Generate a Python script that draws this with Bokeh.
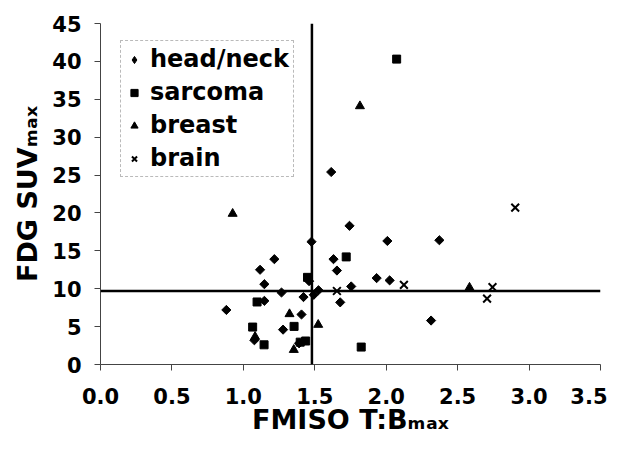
import math
from bokeh.plotting import figure
from bokeh.models import (Span, FixedTicker, NumeralTickFormatter, Range1d,
                          Legend, LegendItem)
from bokeh.embed import file_html
from bokeh.resources import INLINE

# ---- data ----
head_neck_x = [1.477, 1.217, 1.631, 1.117, 1.655, 1.147, 1.46, 1.267, 1.526, 1.493,
               1.421, 1.678, 1.147, 0.881, 1.407, 1.278, 1.077, 1.39, 1.743, 2.008,
               2.372, 1.933, 2.024, 1.755, 2.314, 1.615]
head_neck_y = [16.2, 13.9, 13.9, 12.5, 12.4, 10.6, 11.0, 9.5, 9.8, 9.2,
               8.9, 8.2, 8.4, 7.2, 6.6, 4.6, 3.2, 2.8, 18.3, 16.3,
               16.4, 11.4, 11.1, 10.3, 5.8, 25.4]
sarcoma_x = [2.073, 1.72, 1.449, 1.096, 1.065, 1.355, 1.145, 1.398, 1.436, 1.825]
sarcoma_y = [40.3, 14.2, 11.5, 8.25, 4.94, 5.03, 2.6, 2.95, 3.1, 2.3]
breast_x = [0.925, 1.816, 1.323, 1.524, 1.082, 1.353, 2.583]
breast_y = [19.9, 34.1, 6.66, 5.25, 3.66, 1.94, 10.15]
brain_x = [1.655, 2.124, 2.744, 2.706, 2.903]
brain_y = [9.7, 10.5, 10.2, 8.7, 20.7]

series_labels = ["head/neck", "sarcoma", "breast", "brain"]

x_ticks = [0.0, 0.5, 1.0, 1.5, 2.0, 2.5, 3.0, 3.5]
y_ticks = [0, 5, 10, 15, 20, 25, 30, 35, 40, 45]
fmiso_cut = 1.48
fdg_cut = 9.7

x_title = "FMISO T:B\u2098\u2090\u2093"
y_title = "FDG SUV\u2098\u2090\u2093"

FONT = "DejaVu Sans"

p = figure(width=607, height=442, output_backend="svg", toolbar_location=None,
           x_range=Range1d(0, 3.5), y_range=Range1d(0, 45),
           min_border_left=100, min_border_right=7, min_border_top=23,
           min_border_bottom=78)
p.outline_line_color = None
p.xgrid.visible = False
p.ygrid.visible = False
p.background_fill_color = "white"
p.border_fill_color = "white"

for ax in (p.xaxis[0], p.yaxis[0]):
    ax.axis_line_color = "#444444"
    ax.axis_line_width = 1
    ax.major_tick_line_color = "#444444"
    ax.major_tick_out = 6
    ax.major_tick_in = 0
    ax.minor_tick_line_color = None
    ax.major_label_text_font = FONT
    ax.major_label_text_font_style = "bold"
    ax.major_label_text_font_size = "21px"
    ax.major_label_text_color = "black"
    ax.axis_label_text_font = FONT
    ax.axis_label_text_font_style = "bold"
    ax.axis_label_text_font_size = "27px"
    ax.axis_label_text_color = "black"

p.xaxis[0].ticker = FixedTicker(ticks=x_ticks)
p.xaxis[0].formatter = NumeralTickFormatter(format="0.0")
p.xaxis[0].major_label_standoff = 17
p.xaxis[0].axis_label = x_title
p.xaxis[0].axis_label_standoff = -3
p.yaxis[0].ticker = FixedTicker(ticks=y_ticks)
p.yaxis[0].major_label_standoff = 13
p.yaxis[0].axis_label = y_title
p.yaxis[0].axis_label_standoff = 6

# threshold lines
p.add_layout(Span(location=fdg_cut, dimension="width", line_color="black", line_width=2.5))
p.add_layout(Span(location=fmiso_cut, dimension="height", line_color="black", line_width=2.5))

r_hn = p.scatter(head_neck_x, head_neck_y, marker="square", angle=math.pi / 4, size=6.5,
                 color="black")
# legend key glyph for head/neck (a plain diamond, placed outside the visible range)
r_hn_key = p.scatter(x=[-1.0], y=[-10.0], marker="diamond", size=10, color="black")
r_sa = p.scatter(sarcoma_x, sarcoma_y, marker="square", size=8, color="black")
r_br = p.scatter(breast_x, breast_y, marker="triangle", size=9, color="black")
r_bn = p.scatter(brain_x, brain_y, marker="x", size=11, line_color="black", line_width=2)

lg = Legend(items=[LegendItem(label=series_labels[0], renderers=[r_hn_key]),
                   LegendItem(label=series_labels[1], renderers=[r_sa]),
                   LegendItem(label=series_labels[2], renderers=[r_br]),
                   LegendItem(label=series_labels[3], renderers=[r_bn])])
lg.location = (20, 187)
lg.label_text_font = FONT
lg.label_text_font_style = "bold"
lg.label_text_font_size = "24px"
lg.label_text_color = "black"
lg.glyph_width = 18
lg.glyph_height = 27
lg.label_height = 27
lg.label_standoff = 7
lg.spacing = 5
lg.padding = 4
lg.margin = 0
lg.border_line_color = "#777777"
lg.border_line_width = 1
lg.border_line_dash = "dotted"
lg.background_fill_color = "white"
lg.background_fill_alpha = 1.0
p.add_layout(lg)

open("out.html", "w").write(file_html(p, INLINE))
